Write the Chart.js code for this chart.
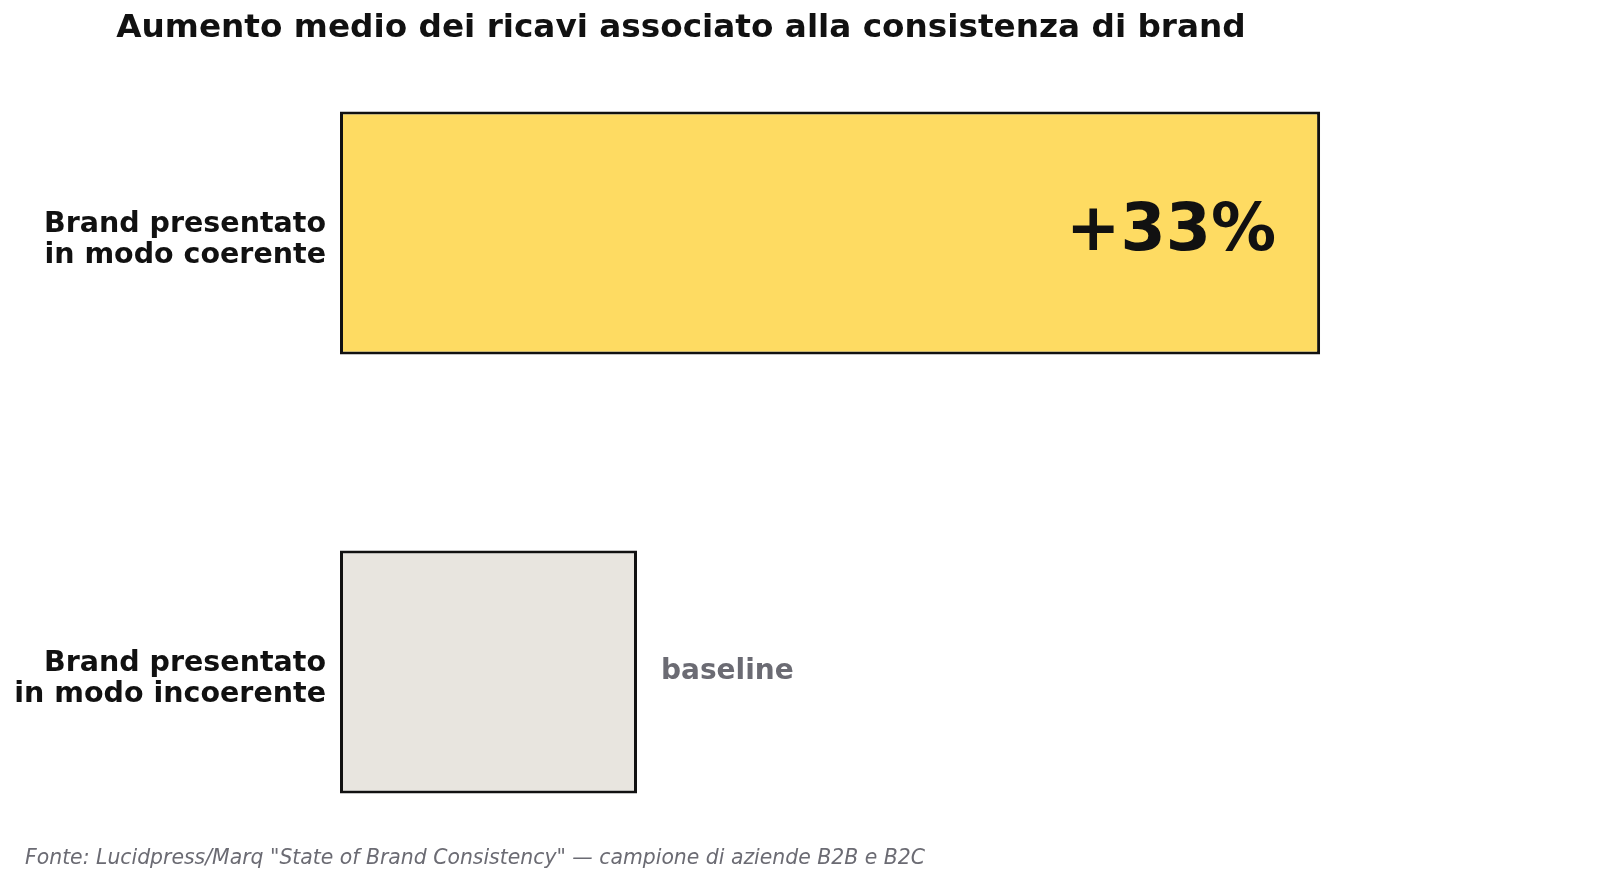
<!DOCTYPE html>
<html>
<head>
    <title>Aumento medio dei ricavi associato alla consistenza di brand</title>
    <style>
        html, body {
            margin: 0;
            padding: 0;
            background: #ffffff;
        }

        .wrap {
            position: relative;
            width: 1600px;
            height: 885px;
        }
    </style>
</head>
<body>
    <div class="wrap">
        <canvas id="ricaviChart"></canvas>
    </div>

    <script src="https://cdn.jsdelivr.net/npm/chart.js"></script>
    <script>
        // dati
        var categorie = [
            ['Brand presentato', 'in modo coerente'],
            ['Brand presentato', 'in modo incoerente']
        ];
        var valori = [33, 10];
        var etichette = ['+33%', 'baseline'];
        var colori = ['#FEDB62', '#E8E5DF'];

        var titolo = 'Aumento medio dei ricavi associato alla consistenza di brand';
        var fonte = 'Fonte: Lucidpress/Marq "State of Brand Consistency" \u2014 campione di aziende B2B e B2C';

        var font = '"DejaVu Sans", Verdana, sans-serif';

        // titolo, fonte e etichette dei valori
        var testiPlugin = {
            id: 'testi',
            afterDatasetsDraw: function (chart) {
                var ctx = chart.ctx;
                var meta = chart.getDatasetMeta(0);
                ctx.save();

                ctx.fillStyle = '#111111';
                ctx.font = 'bold 32.7px ' + font;
                ctx.textAlign = 'center';
                ctx.textBaseline = 'middle';
                ctx.fillText(titolo, 681, 29);

                meta.data.forEach(function (bar, i) {
                    if (i === 0) {
                        ctx.font = 'bold 65px ' + font;
                        ctx.fillStyle = '#111111';
                        ctx.textAlign = 'right';
                        ctx.fillText(etichette[i], bar.x - 44, bar.y);
                    } else {
                        ctx.font = 'bold 28px ' + font;
                        ctx.fillStyle = '#6B6B73';
                        ctx.textAlign = 'left';
                        ctx.fillText(etichette[i], bar.x + 24, bar.y);
                    }
                });

                ctx.font = 'italic 20.4px ' + font;
                ctx.fillStyle = '#6B6B73';
                ctx.textAlign = 'left';
                ctx.fillText(fonte, 25, 859);

                ctx.restore();
            }
        };

        var ctx = document.getElementById('ricaviChart').getContext('2d');

        new Chart(ctx, {
            type: 'bar',
            data: {
                labels: categorie,
                datasets: [{
                    data: valori,
                    backgroundColor: colori,
                    borderColor: '#111111',
                    borderWidth: 3,
                    borderSkipped: false,
                    barPercentage: 1,
                    categoryPercentage: 0.553,
                    clip: false
                }]
            },
            options: {
                indexAxis: 'y',
                responsive: true,
                maintainAspectRatio: false,
                animation: false,
                layout: {
                    padding: { top: 233, bottom: 213, left: 0, right: 72 }
                },
                plugins: {
                    legend: { display: false },
                    tooltip: { enabled: false },
                    title: { display: false }
                },
                scales: {
                    x: {
                        display: false,
                        min: 0,
                        max: 40
                    },
                    y: {
                        offset: false,
                        grid: { display: false },
                        border: { display: false },
                        afterFit: function (scale) {
                            scale.width = 340;
                        },
                        ticks: {
                            padding: 6,
                            labelOffset: 7,
                            color: '#111111',
                            font: { family: font, size: 28.5, weight: 'bold', lineHeight: 1.1 }
                        }
                    }
                }
            },
            plugins: [testiPlugin]
        });
    </script>
</body>
</html>
